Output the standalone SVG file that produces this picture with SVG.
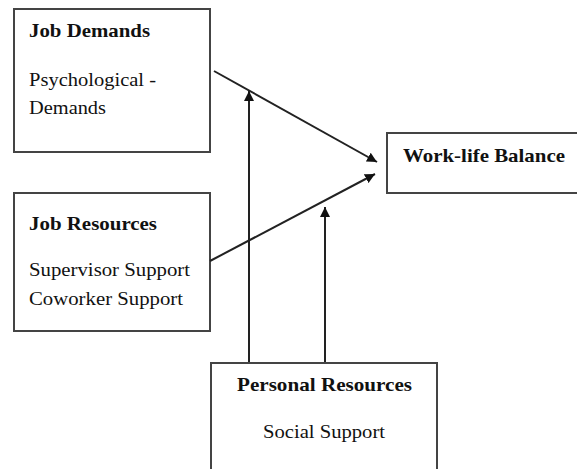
<svg xmlns="http://www.w3.org/2000/svg" width="577" height="469" viewBox="0 0 577 469">
<style>
.box{fill:#fff;stroke:#444;stroke-width:2}
.t{font-family:"Liberation Serif","Times New Roman",serif;font-size:19px;fill:#111}
.b{font-weight:bold}
.c{stroke:#222;stroke-width:2;fill:none}
</style>
<defs>
<marker id="ah" viewBox="0 0 10 10" refX="10" refY="5" markerWidth="5" markerHeight="5" orient="auto" markerUnits="strokeWidth">
<path d="M0,0 L10,5 L0,10 z" fill="#111"/>
</marker>
</defs>
<rect x="0" y="0" width="577" height="469" fill="#fff"/>
<g id="job-demands">
<rect class="box" x="14" y="9" width="196" height="143"/>
<text class="t b" x="29" y="37" textLength="121" lengthAdjust="spacingAndGlyphs">Job Demands</text>
<text class="t" x="29" y="86" textLength="127" lengthAdjust="spacingAndGlyphs">Psychological -</text>
<text class="t" x="29" y="114" textLength="77" lengthAdjust="spacingAndGlyphs">Demands</text>
</g>
<g id="job-resources">
<rect class="box" x="14" y="193" width="196" height="138"/>
<text class="t b" x="29" y="230" textLength="128" lengthAdjust="spacingAndGlyphs">Job Resources</text>
<text class="t" x="29" y="276" textLength="161" lengthAdjust="spacingAndGlyphs">Supervisor Support</text>
<text class="t" x="29" y="305" textLength="154" lengthAdjust="spacingAndGlyphs">Coworker Support</text>
</g>
<g id="work-life-balance">
<rect class="box" x="387" y="133" width="200" height="60"/>
<text class="t b" x="403" y="162" textLength="162" lengthAdjust="spacingAndGlyphs">Work-life Balance</text>
</g>
<g id="personal-resources">
<rect class="box" x="211" y="363" width="226" height="120"/>
<text class="t b" x="237" y="391" textLength="175" lengthAdjust="spacingAndGlyphs">Personal Resources</text>
<text class="t" x="263" y="438" textLength="122" lengthAdjust="spacingAndGlyphs">Social Support</text>
</g>
<g id="connectors">
<line class="c" x1="214" y1="71" x2="377" y2="162" marker-end="url(#ah)"/>
<line class="c" x1="210" y1="261" x2="375" y2="174" marker-end="url(#ah)"/>
<line class="c" x1="249" y1="362" x2="249" y2="91" marker-end="url(#ah)"/>
<line class="c" x1="325" y1="362" x2="325" y2="207" marker-end="url(#ah)"/>
</g>
</svg>
